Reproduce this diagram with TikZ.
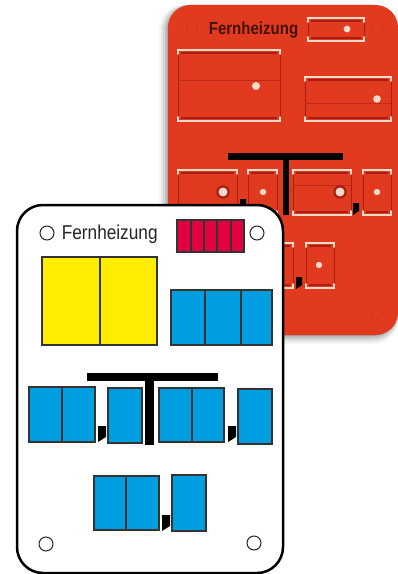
\documentclass[tikz,border=0pt]{standalone}
\usepackage{fontspec}
\newfontfamily\labelfont[FakeStretch=0.86]{Liberation Sans}
\usetikzlibrary{calc}
\definecolor{plateRed}{HTML}{E23A1E}
\definecolor{slotDark}{HTML}{A81E14}
\definecolor{holeWhite}{HTML}{F6D9C8}
\definecolor{cellBlue}{HTML}{009EE0}
\definecolor{cellYellow}{HTML}{FFED00}
\definecolor{cellRed}{HTML}{E2003F}

\begin{document}
\begin{tikzpicture}[
  x=0.02cm, y=-0.02cm,
  plate/.style={fill=plateRed, rounded corners=0.45cm},
  card/.style={draw=black, fill=white, line width=0.05cm, rounded corners=0.52cm},
  hole/.style={draw=black!85, fill=white, line width=0.6pt},
  cell/.style={draw=black!80, line width=0.6pt},
  cutline/.style={draw=holeWhite, line width=1.05pt, line cap=round},
  cutdark/.style={draw=slotDark, line width=0.35pt},
  ink/.style={fill=black}
]
\useasboundingbox (0,0) rectangle (398,574);

% --- Red plate with soft shadow ---
\foreach \d/\o in {9/0.04, 7/0.06, 5/0.08, 3/0.10, 1/0.14}
  \fill[black, opacity=\o, rounded corners=0.5cm]
    (168-\d,5) rectangle (398,335+\d);
\fill[plate] (168,5) rectangle (398,335);
\node[font=\labelfont\bfseries, text=black!70!plateRed, inner sep=0pt] (plateTitle) at (253.5,30) {\fontsize{9.95pt}{12pt}\selectfont Fernheizung};

% --- Cut-outs: left/top/right/bottom ---
\foreach \xa/\ya/\xb/\yb in {
  308/18/364/41, 178/50/280/121, 305/77/391/121,
  178/170/237/215, 248/170/277/215, 293/170/351/215, 363/170/391/215,
  234/243/293/288, 306/243/334/288
} {
  \draw[cutdark] (\xa,\ya) rectangle (\xb,\yb);
  \draw[cutdark, line width=1pt] (\xa+3,\ya+3) -- (\xb-3,\ya+3);
  \draw[cutdark, line width=1pt] (\xa+3,\yb-3) -- (\xb-3,\yb-3);
  \draw[cutline] (\xa,\ya+4) -- (\xa,\ya) -- (\xb,\ya) -- (\xb,\ya+4);
  \draw[cutline] (\xa,\yb-4) -- (\xa,\yb) -- (\xb,\yb) -- (\xb,\yb-4);
}
\draw[cutdark, slotDark!60!plateRed] (178,80) -- (280,80);
\draw[cutdark, slotDark!60!plateRed] (305,103) -- (391,103);
\draw[cutdark, slotDark!60!plateRed] (293,185) -- (351,185);

% --- Holes and faint marks ---
\foreach \x/\y/\r in {347/29/3.4, 256/86/4, 377/99/3.8, 263/192/3.2, 377/192/3.2, 319/265/3.2}
  \fill[holeWhite] (\x,\y) circle (\r*0.02cm);
\foreach \x/\y in {223/192, 340/192} {
  \fill[slotDark] (\x,\y) circle (0.135cm);
  \fill[holeWhite] (\x,\y) circle (0.09cm);
}
\foreach \x/\y in {192/28, 377/28, 377/313}
  \draw[slotDark!22!plateRed, line width=0.4pt] (\x,\y) circle (0.12cm);

% --- Black marks on the plate ---
\fill[ink] (228,153) rectangle (343,160);
\fill[ink] (283,160) rectangle (289,215);
\foreach \x/\y in {240/199, 353/203, 296/277}
  \fill[ink] (\x,\y) -- ++(6,0) -- ++(0,8) -- ++(-6,4) -- cycle;

% --- White card ---
\draw[card] (17,205) rectangle (283,573);
\foreach \x/\y in {47/233, 257/233, 46/544, 254/543}
  \draw[hole] (\x,\y) circle (0.14cm);
\node[font=\labelfont, text=black!85, inner sep=0pt, anchor=west] (cardTitle) at (61.5,234) {\fontsize{11.4pt}{12pt}\selectfont Fernheizung};

% --- Fields ---
\draw[cell, fill=cellRed] (177,220) rectangle (244,252);
\foreach \x in {191,204,217,231}
  \draw[cell] (\x,220) -- (\x,252);
\draw[cell, fill=cellYellow] (42,257) rectangle (157,345);
\draw[cell] (100,257) -- (100,345);
\draw[cell, fill=cellBlue] (171,290) rectangle (272,345);
\foreach \x in {205,241}
  \draw[cell] (\x,290) -- (\x,345);

% --- T bar ---
\fill[ink] (87,373) rectangle (218,381);
\fill[ink] (145,381) rectangle (154,445);

% --- Blue groups ---
\foreach \xa/\ya/\xb/\yb/\xm in {
  29/387/95/442/62, 159/388/224/442/192, 94/476/159/530/126
} {
  \draw[cell, fill=cellBlue] (\xa,\ya) rectangle (\xb,\yb);
  \draw[cell] (\xm,\ya) -- (\xm,\yb);
}
\foreach \xa/\ya/\xb/\yb in {108/388/142/443, 238/389/272/444, 172/475/206/531}
  \draw[cell, fill=cellBlue] (\xa,\ya) rectangle (\xb,\yb);

% --- Commas ---
\foreach \x/\y in {98/426, 228/426, 162/515}
  \fill[ink] (\x,\y) -- ++(8,0) -- ++(0,11) -- ++(-8,5) -- cycle;

\end{tikzpicture}
\end{document}
